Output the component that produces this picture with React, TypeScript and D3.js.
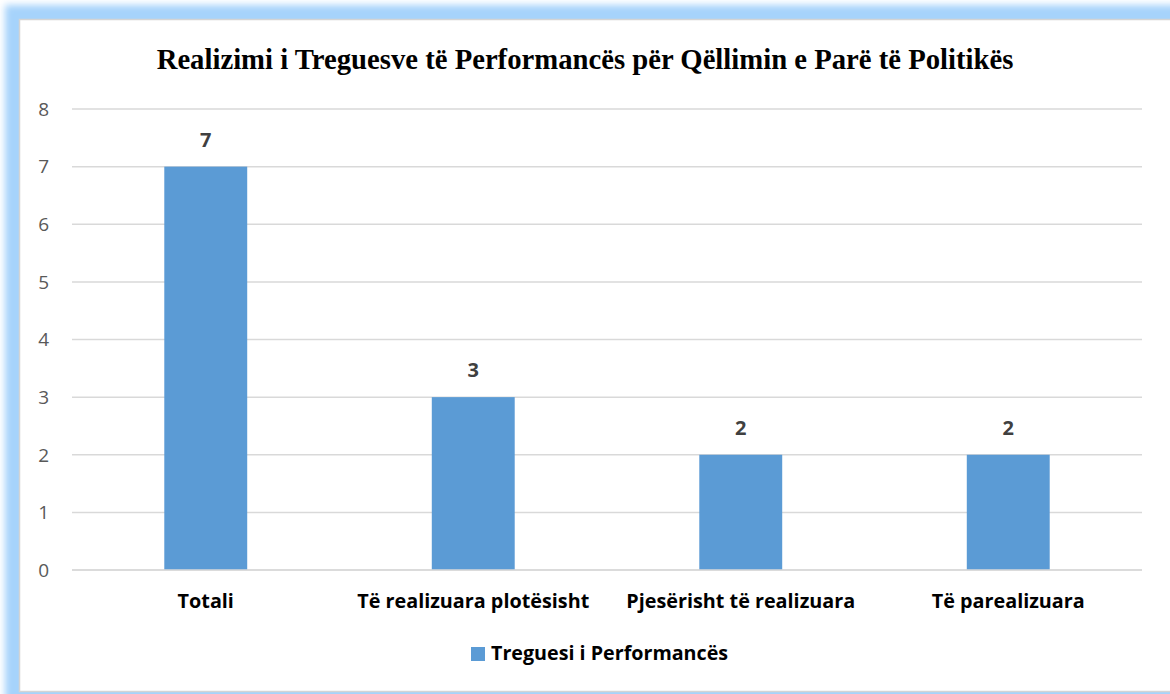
import React from "react";
import * as d3 from "d3";

const categories = ["Totali", "Të realizuara plotësisht", "Pjesërisht të realizuara", "Të parealizuara"];
const values = [7, 3, 2, 2];
const yTicks = [0, 1, 2, 3, 4, 5, 6, 7, 8];
const seriesName = "Treguesi i Performancës";
const title = "Realizimi i Treguesve të Performancës për Qëllimin e Parë të Politikës";

const W = 1170;
const H = 694;
const plotLeft = 72;
const plotRight = 1142;
const plotTop = 109;
const plotBottom = 570;

export default function App() {
  const x = d3.scaleBand<string>().domain(categories).range([plotLeft, plotRight]).paddingInner(0).paddingOuter(0);
  const y = d3.scaleLinear().domain([0, 8]).range([plotBottom, plotTop]);
  const barW = x.bandwidth() * 0.31;
  const catFont = "'Open Sans', sans-serif";
  return (
    <svg width={W} height={H} style={{ position: "absolute", left: 0, top: 0 }}>
      <defs>
        <filter id="glow" x="-10%" y="-10%" width="120%" height="120%">
          <feGaussianBlur stdDeviation="3.5" />
        </filter>
      </defs>
      <rect x={0} y={0} width={W} height={H} fill="#ffffff" />
      <rect x={5} y={5} width={1250} height={700} fill="#a6d3fb" filter="url(#glow)" />
      <rect x={19.5} y={19.5} width={1200} height={672} fill="#ffffff" stroke="#d4d4d4" strokeWidth={1.5} />
      <text x={585} y={69} textAnchor="middle" fontFamily="'Liberation Serif', 'Times New Roman', serif" fontWeight="bold" fontSize={28.7} fill="#000">
        {title}
      </text>
      {yTicks.map((t) => (
        <g key={t}>
          <line x1={plotLeft} x2={plotRight} y1={y(t)} y2={y(t)} stroke="#d9d9d9" strokeWidth={1.5} />
          <text x={49} y={y(t)} dy="0.36em" textAnchor="end" fontFamily="'Open Sans', sans-serif" fontSize={19} fill="#595959">
            {t}
          </text>
        </g>
      ))}
      {categories.map((c, i) => {
        const cx = (x(c) as number) + x.bandwidth() / 2;
        return (
          <g key={c}>
            <rect x={cx - barW / 2} y={y(values[i])} width={barW} height={plotBottom - y(values[i])} fill="#5b9bd5" />
            <text x={cx} y={y(values[i]) - 20} textAnchor="middle" fontFamily={catFont} fontWeight="bold" fontSize={20} fill="#404040">
              {values[i]}
            </text>
            <text x={cx} y={608} textAnchor="middle" fontFamily={catFont} fontWeight="bold" fontSize={19.8} fill="#000">
              {c}
            </text>
          </g>
        );
      })}
      <line x1={plotLeft} x2={plotRight} y1={y(0)} y2={y(0)} stroke="#d9d9d9" strokeWidth={1.5} />
      <rect x={471} y={647} width={14} height={14} fill="#5b9bd5" />
      <text x={491} y={660} fontFamily={catFont} fontWeight="bold" fontSize={19.7} fill="#000">
        {seriesName}
      </text>
    </svg>
  );
}
